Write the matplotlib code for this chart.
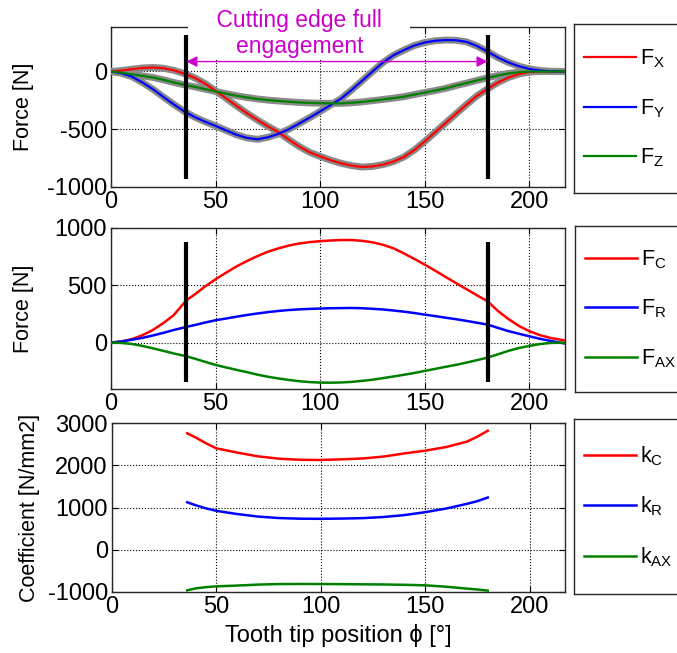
import matplotlib
matplotlib.use("Agg")
import matplotlib.pyplot as plt

plt.rcParams['font.family'] = ['Liberation Sans', 'DejaVu Sans']
plt.rcParams['font.size'] = 16
plt.rcParams['axes.unicode_minus'] = False
plt.rcParams['mathtext.fontset'] = 'custom'
plt.rcParams['mathtext.rm'] = 'Liberation Sans'
plt.rcParams['mathtext.it'] = 'Liberation Sans:italic'
plt.rcParams['mathtext.bf'] = 'Liberation Sans:bold'

# ---------------- data ----------------
phi_top = [0, 5, 10, 15, 20, 25, 30, 35, 40, 45, 50, 55, 60, 65, 70, 75, 80,
           85, 90, 95, 100, 105, 110, 115, 120, 125, 130, 135, 140, 145, 150,
           155, 160, 165, 170, 175, 180, 185, 190, 195, 200, 205, 210, 217]
Fx = [0, 8, 20, 30, 35, 28, 10, -18, -55, -105, -168, -232, -298, -362, -420,
      -475, -525, -590, -650, -700, -735, -768, -795, -815, -827, -822, -806,
      -780, -740, -680, -605, -525, -445, -365, -285, -210, -150, -95, -52,
      -22, -5, 0, 0, 0]
Fy = [0, -15, -45, -95, -153, -220, -285, -345, -395, -435, -471, -510, -548,
      -575, -587, -570, -540, -500, -450, -399, -345, -290, -235, -160, -81,
      0, 78, 140, 185, 225, 251, 266, 272, 270, 256, 220, 172, 120, 78, 45,
      22, 8, 2, 0]
Fz = [0, -10, -25, -38, -52, -72, -95, -115, -133, -153, -173, -192, -210,
      -225, -238, -248, -255, -262, -268, -272, -275, -276, -276, -271, -263,
      -253, -242, -231, -218, -200, -182, -165, -146, -122, -100, -77, -55,
      -35, -17, -6, -1, 0, 0, 0]

phi_mid = [0, 5, 10, 15, 20, 25, 30, 36, 40, 45, 50, 55, 60, 65, 70, 75, 80,
           85, 90, 95, 100, 105, 110, 115, 120, 125, 130, 135, 140, 145, 150,
           155, 160, 165, 170, 175, 180, 185, 190, 195, 200, 205, 210, 217]
Fc = [0, 10, 30, 64, 110, 170, 240, 369, 420, 490, 553, 610, 665, 712, 755,
      793, 822, 847, 865, 877, 885, 891, 895, 895, 888, 875, 853, 823, 778,
      730, 680, 627, 572, 518, 465, 412, 360, 275, 205, 145, 99, 65, 41, 18]
Fr = [0, 10, 25, 41, 62, 85, 110, 137, 153, 175, 195, 210, 226, 241, 254,
      266, 276, 284, 290, 294, 297, 300, 301, 302, 300, 295, 289, 280, 270,
      258, 244, 231, 217, 204, 189, 173, 157, 128, 100, 77, 55, 33, 15, -8]
Fax = [0, -3, -12, -29, -50, -72, -95, -119, -140, -168, -195, -217, -238,
       -258, -280, -298, -313, -326, -337, -345, -349, -350, -348, -343, -334,
       -324, -310, -296, -281, -265, -247, -229, -211, -194, -174, -153, -131,
       -102, -72, -47, -29, -13, -3, 0]

phi_k = [36, 40, 45, 50, 60, 70, 80, 90, 100, 110, 120, 130, 140, 150, 160,
         170, 175, 180]
kC = [2755, 2660, 2520, 2400, 2300, 2210, 2155, 2130, 2125, 2140, 2160, 2205,
      2280, 2345, 2430, 2558, 2676, 2817]
kR = [1125, 1055, 980, 921, 845, 785, 750, 735, 732, 738, 748, 775, 820, 889,
      975, 1086, 1150, 1236]
kAX = [-960, -915, -885, -866, -848, -825, -812, -810, -811, -814, -818, -822,
       -830, -842, -875, -920, -940, -968]

engage = [36, 180]
labels_top = [r'$\mathrm{F}_\mathrm{X}$', r'$\mathrm{F}_\mathrm{Y}$', r'$\mathrm{F}_\mathrm{Z}$']
labels_mid = [r'$\mathrm{F}_\mathrm{C}$', r'$\mathrm{F}_\mathrm{R}$', r'$\mathrm{F}_\mathrm{AX}$']
labels_bot = [r'$\mathrm{k}_\mathrm{C}$', r'$\mathrm{k}_\mathrm{R}$', r'$\mathrm{k}_\mathrm{AX}$']

RED, BLUE, GREEN = '#ff0000', '#0000ff', '#008000'
MAG = '#cc00cc'
TICK_FS = 17

W, H = 677, 653
fig = plt.figure(figsize=(W / 100, H / 100), dpi=100)


def pos(l, t, r, b):
    return [l / W, 1 - b / H, (r - l) / W, (b - t) / H]


def style(ax, yticks, ylim):
    ax.set_xlim(0, 217)
    ax.set_ylim(*ylim)
    ax.set_xticks([0, 50, 100, 150, 200])
    ax.set_yticks(yticks)
    ax.grid(True, linestyle=':', color='k', linewidth=0.8)
    ax.tick_params(direction='in', length=4, top=True, right=True,
                   labelsize=TICK_FS, pad=3)
    for s in ax.spines.values():
        s.set_color('#262626')
        s.set_linewidth(1.0)


def legend_box(rect, handles, labels):
    axl = fig.add_axes(rect)
    axl.set_xticks([])
    axl.set_yticks([])
    for s in axl.spines.values():
        s.set_color('#262626')
        s.set_linewidth(1.0)
    axl.legend(handles, labels, loc='center left', bbox_to_anchor=(0, 0.5),
               frameon=False, handlelength=2.45, handletextpad=0.15,
               labelspacing=1.25, fontsize=15.5, borderaxespad=0.05,
               borderpad=0.4)
    return axl


# ---------------- top ----------------
ax1 = fig.add_axes(pos(111, 27, 565, 187))
style(ax1, [-1000, -500, 0], (-1000, 385))
hs = []
for y in (Fx, Fy, Fz):
    ax1.plot(phi_top, y, color='#8a8a8a', lw=5.0, zorder=4,
             solid_capstyle='round', solid_joinstyle='round')
for y, c in [(Fx, RED), (Fy, BLUE), (Fz, GREEN)]:
    h, = ax1.plot(phi_top, y, color=c, lw=1.6, zorder=4.5)
    hs.append(h)
ax1.vlines(engage, -930, 320, colors='k', lw=3, zorder=5)
ax1.annotate('', xy=(engage[0], 86), xytext=(engage[1], 86),
             arrowprops=dict(arrowstyle='<|-|>', color=MAG, lw=1.0,
                             shrinkA=0, shrinkB=0, mutation_scale=16),
             zorder=5)
ax1.text(90, 330, '    Cutting edge full    \nengagement', color=MAG,
         ha='center', va='center', multialignment='center', fontsize=16.5,
         linespacing=1.15, zorder=3,
         bbox=dict(facecolor='white', edgecolor='none',
                   boxstyle='square,pad=0.12'))
ax1.set_ylabel('Force [N]', fontsize=15.5)
ax1.yaxis.set_label_coords(-0.17, 0.5)
legend_box(pos(574, 24, 700, 193), hs, labels_top)

# ---------------- middle ----------------
ax2 = fig.add_axes(pos(111, 228, 565, 389))
style(ax2, [0, 500, 1000], (-405, 1000))
hs = []
for y, c in [(Fc, RED), (Fr, BLUE), (Fax, GREEN)]:
    h, = ax2.plot(phi_mid, y, color=c, lw=1.8, zorder=4)
    hs.append(h)
ax2.vlines(engage, -345, 880, colors='k', lw=3, zorder=5)
ax2.set_ylabel('Force [N]', fontsize=15.5)
ax2.yaxis.set_label_coords(-0.17, 0.5)
legend_box(pos(575, 226, 700, 392), hs, labels_mid)

# ---------------- bottom ----------------
ax3 = fig.add_axes(pos(112, 423, 565, 592))
style(ax3, [-1000, 0, 1000, 2000, 3000], (-1000, 3000))
hs = []
for y, c in [(kC, RED), (kR, BLUE), (kAX, GREEN)]:
    h, = ax3.plot(phi_k, y, color=c, lw=1.8, zorder=4)
    hs.append(h)
ax3.set_ylabel('Coefficient [N/mm2]', fontsize=15.5)
ax3.yaxis.set_label_coords(-0.16, 0.5)
ax3.set_xlabel('Tooth tip position \u03d5 [°]', fontsize=17, labelpad=4)
legend_box(pos(574, 419, 700, 594), hs, labels_bot)

fig.savefig('out.png', dpi=100, facecolor='white')
